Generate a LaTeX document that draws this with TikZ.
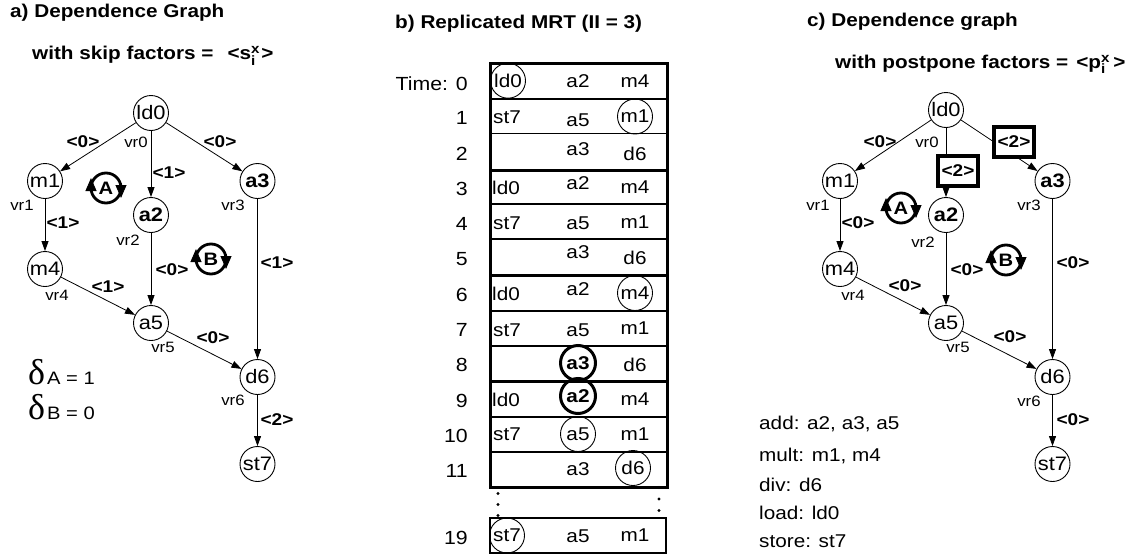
\documentclass[tikz,border=0pt]{standalone}
\usepackage{fontspec}
\setmainfont{Liberation Sans}[FakeStretch=1.12]
\newfontfamily\greekserif{Liberation Serif}
\usetikzlibrary{arrows.meta,calc}
\newcommand\fsz[1]{\fontsize{#1}{#1}\selectfont}
\newcommand\stackxi[2]{\makebox[0pt][l]{\raisebox{6pt}{\fsz{13.5}#1}}\raisebox{-5.5pt}{\fsz{13.5}#2}}
\tikzset{
  gn/.style={circle, draw, line width=0.9pt, minimum size=35pt, inner sep=0pt, font=\fsz{19.5}},
  gnb/.style={gn, font=\fsz{19.5}\bfseries},
  lbl/.style={inner sep=0pt, font=\fsz{17}\bfseries},
  vrl/.style={inner sep=0pt, font=\fsz{15}},
  dep/.style={line width=0.8pt, -{Triangle[length=10pt,width=7pt]}},
  cycl/.style={inner sep=0pt, font=\fsz{18}\bfseries},
  cycline/.style={line width=2.8pt},
  cyctip/.style={line width=1pt, -{Triangle[length=13pt,width=11pt]}},
  tt/.style={inner sep=0pt, font=\fsz{18.5}},
  tc/.style={circle, draw, line width=0.9pt, minimum size=35pt, inner sep=0pt, font=\fsz{18.5}},
  tcb/.style={tc, line width=3pt, font=\fsz{18.5}\bfseries},
  tl/.style={anchor=east, inner sep=0pt, font=\fsz{19}},
  ttl/.style={anchor=base west, inner sep=0pt, font=\fsz{18.5}\bfseries},
  pbox/.style={draw, line width=4.5pt, fill=white, minimum width=40pt, minimum height=30pt, inner sep=0pt, font=\fsz{17}\bfseries},
  leg/.style={anchor=west, inner sep=0pt, font=\fsz{18.5}},
  thickrule/.style={line width=3pt},
  thinrule/.style={line width=1.3pt},
  dlt/.style={anchor=base west, inner sep=0pt, font=\greekserif\fsz{36}},
  dltx/.style={anchor=base west, inner sep=0pt, font=\fsz{18}},
}
\newcommand\cycle[3]{%
  \node[cycl] (#1) at (#2) {#3};
  \draw[cycline] (#1) circle (15pt);
  \draw[cyctip] ($(#1)+(-15,5)$) -- ($(#1)+(-15,-10)$);
  \draw[cyctip] ($(#1)+(15,-5)$) -- ($(#1)+(15,10)$);
}
\begin{document}
\begin{tikzpicture}[x=1pt,y=-1pt]
\useasboundingbox (0,0) rectangle (1140,557);

% ---------------- titles
\node[ttl] (ta) at (10,17.5) {a) Dependence Graph};
\node[ttl] (tas) at (32,59.5) {with skip factors =\hspace{14pt}<s\stackxi{x}{i}\hspace{6pt}>};
\node[ttl] (tb) at (395,28) {b) Replicated MRT (II = 3)};
\node[ttl] (tc) at (807,26.5) {c) Dependence graph};
\node[ttl] (tcs) at (835,68) {with postpone factors =\hspace{8pt}<p\stackxi{x}{i}\hspace{8pt}>};

% ---------------- part a graph
\node[gn]  (a-ld0) at (151,113) {ld0};
\node[gn]  (a-m1)  at (45,181) {m1};
\node[gnb] (a-a2)  at (151,215) {a2};
\node[gnb] (a-a3)  at (257.5,181) {a3};
\node[gn]  (a-m4)  at (45,269) {m4};
\node[gn]  (a-a5)  at (151,323) {a5};
\node[gn]  (a-d6)  at (257.5,377) {d6};
\node[gn]  (a-st7) at (257.5,464) {st7};

\draw[dep] (a-ld0) -- (a-m1);
\draw[dep] (a-ld0) -- (a-a2);
\draw[dep] (a-ld0) -- (a-a3);
\draw[dep] (a-m1) -- (a-m4);
\draw[dep] (a-a2) -- (a-a5);
\draw[dep] (a-m4) -- (a-a5);
\draw[dep] (a-a3) -- (a-d6);
\draw[dep] (a-a5) -- (a-d6);
\draw[dep] (a-d6) -- (a-st7);

\node[lbl] (a-l1) at (83,142) {<0>};
\node[lbl] (a-l2) at (220,142) {<0>};
\node[lbl] (a-l3) at (169,173) {<1>};
\node[lbl] (a-l4) at (63,223) {<1>};
\node[lbl] (a-l5) at (172,270) {<0>};
\node[lbl] (a-l6) at (277,263) {<1>};
\node[lbl] (a-l7) at (108,287) {<1>};
\node[lbl] (a-l8) at (213,338) {<0>};
\node[lbl] (a-l9) at (277,420) {<2>};

\node[vrl] (a-v0) at (136,142) {vr0};
\node[vrl] (a-v1) at (22,205) {vr1};
\node[vrl] (a-v2) at (128,240) {vr2};
\node[vrl] (a-v3) at (233,205) {vr3};
\node[vrl] (a-v4) at (57,295) {vr4};
\node[vrl] (a-v5) at (163,347) {vr5};
\node[vrl] (a-v6) at (233,400) {vr6};

\cycle{a-A}{106,188}{A}
\cycle{a-B}{211,259}{B}

\node[dlt]  (dA)  at (28,384) {δ};
\node[dltx] (dAt) at (47,384) {A = 1};
\node[dlt]  (dB)  at (28,419) {δ};
\node[dltx] (dBt) at (47,419) {B = 0};

% ---------------- part b table
\draw[thinrule] (490,99) -- (667,99);
\draw[thinrule] (490,133.5) -- (667,133.5);
\draw[thinrule] (490,204) -- (667,204);
\draw[thinrule] (490,239) -- (667,239);
\draw[thinrule] (490,311) -- (667,311);
\draw[thinrule] (490,346) -- (667,346);
\draw[thinrule] (490,417) -- (667,417);
\draw[thinrule] (490,452) -- (667,452);
\draw[thickrule] (490,170) -- (667,170);
\draw[thickrule] (490,275) -- (667,275);
\draw[thickrule] (490,381.5) -- (667,381.5);
\draw[thickrule] (490,63) rectangle (667,487);
\draw[thinrule] (490,518) rectangle (666,553);
\foreach \yy in {493.5,504.5,515.5} \fill (498,\yy) circle (1.6pt);
\foreach \yy in {487.5,499,510.5} \fill (659,\yy) circle (1.6pt);

\node[tl] (r0)  at (468,84)  {Time: 0};
\node[tl] (r1)  at (468,118) {1};
\node[tl] (r2)  at (468,153.5) {2};
\node[tl] (r3)  at (468,188.5) {3};
\node[tl] (r4)  at (468,224) {4};
\node[tl] (r5)  at (468,259) {5};
\node[tl] (r6)  at (468,294.5) {6};
\node[tl] (r7)  at (468,330) {7};
\node[tl] (r8)  at (468,365) {8};
\node[tl] (r9)  at (468,400.5) {9};
\node[tl] (r10) at (468,436) {10};
\node[tl] (r11) at (468,471) {11};
\node[tl] (r19) at (468,537.5) {19};

\node[tc] (t0a) at (508,80.7) {ld0};
\node[tt] (t0b) at (578,80.7) {a2};
\node[tt] (t0c) at (635,81) {m4};
\node[tt] (t1a) at (507,117) {st7};
\node[tt] (t1b) at (578,120) {a5};
\node[tc] (t1c) at (635,116.5) {m1};
\node[tt] (t2b) at (578,149) {a3};
\node[tt] (t2c) at (635,154) {d6};
\node[tt] (t3a) at (506,188) {ld0};
\node[tt] (t3b) at (578,183) {a2};
\node[tt] (t3c) at (635,187) {m4};
\node[tt] (t4a) at (507,223) {st7};
\node[tt] (t4b) at (578,223) {a5};
\node[tt] (t4c) at (635,222) {m1};
\node[tt] (t5b) at (578,252) {a3};
\node[tt] (t5c) at (635,258) {d6};
\node[tt] (t6a) at (506,294) {ld0};
\node[tt] (t6b) at (578,289) {a2};
\node[tc] (t6c) at (635,293) {m4};
\node[tt] (t7a) at (507,330) {st7};
\node[tt] (t7b) at (578,330) {a5};
\node[tt] (t7c) at (635,328) {m1};
\node[tcb] (t8b) at (578,363) {a3};
\node[tt] (t8c) at (635,365) {d6};
\node[tt] (t9a) at (506,400) {ld0};
\node[tcb] (t9b) at (578,396) {a2};
\node[tt] (t9c) at (635,399) {m4};
\node[tt] (t10a) at (507,434) {st7};
\node[tc] (t10b) at (578,434) {a5};
\node[tt] (t10c) at (635,434) {m1};
\node[tt] (t11b) at (578,469) {a3};
\node[tc] (t11c) at (633,468) {d6};
\node[tc] (t19a) at (507,535.5) {st7};
\node[tt] (t19b) at (578,536) {a5};
\node[tt] (t19c) at (635,535) {m1};

% ---------------- part c graph
\node[gn]  (c-ld0) at (946,110) {ld0};
\node[gn]  (c-m1)  at (840,181) {m1};
\node[gnb] (c-a2)  at (946,215) {a2};
\node[gnb] (c-a3)  at (1052.5,181) {a3};
\node[gn]  (c-m4)  at (840,269) {m4};
\node[gn]  (c-a5)  at (946,323) {a5};
\node[gn]  (c-d6)  at (1052.5,377) {d6};
\node[gn]  (c-st7) at (1052.5,464) {st7};

\draw[dep] (c-ld0) -- (c-m1);
\draw[dep] (c-ld0) -- (c-a2);
\draw[dep] (c-ld0) -- (c-a3);
\draw[dep] (c-m1) -- (c-m4);
\draw[dep] (c-a2) -- (c-a5);
\draw[dep] (c-m4) -- (c-a5);
\draw[dep] (c-a3) -- (c-d6);
\draw[dep] (c-a5) -- (c-d6);
\draw[dep] (c-d6) -- (c-st7);

\node[pbox] (c-b1) at (958,171) {<2>};
\node[pbox] (c-b2) at (1014,142) {<2>};

\node[lbl] (c-l1) at (880,142) {<0>};
\node[lbl] (c-l4) at (858,223) {<0>};
\node[lbl] (c-l5) at (967,270) {<0>};
\node[lbl] (c-l6) at (1073,263) {<0>};
\node[lbl] (c-l7) at (905,286) {<0>};
\node[lbl] (c-l8) at (1010,337) {<0>};
\node[lbl] (c-l9) at (1073,420) {<0>};

\node[vrl] (c-v0) at (927,142) {vr0};
\node[vrl] (c-v1) at (818,205) {vr1};
\node[vrl] (c-v2) at (923,242) {vr2};
\node[vrl] (c-v3) at (1029,205) {vr3};
\node[vrl] (c-v4) at (853,295) {vr4};
\node[vrl] (c-v5) at (958,347) {vr5};
\node[vrl] (c-v6) at (1029,401) {vr6};

\cycle{c-A}{901,208}{A}
\cycle{c-B}{1006,260}{B}

\node[leg] (g1) at (759,424) {add: a2, a3, a5};
\node[leg] (g2) at (759,456) {mult: m1, m4};
\node[leg] (g3) at (759,485) {div: d6};
\node[leg] (g4) at (759,513) {load: ld0};
\node[leg] (g5) at (759,541) {store: st7};
\end{tikzpicture}
\end{document}
